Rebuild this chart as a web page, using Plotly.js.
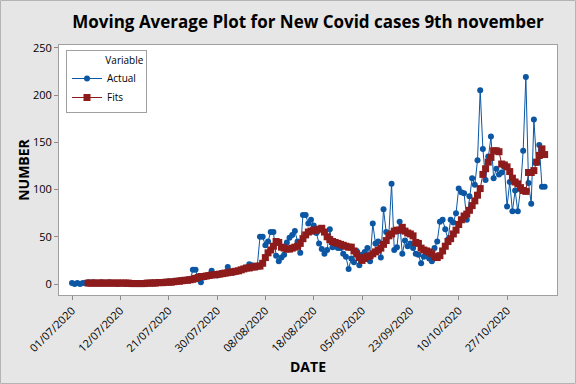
<!DOCTYPE html>
<html>
<head>
<meta charset="utf-8">
<script src="https://cdn.plot.ly/plotly-3.0.1.min.js"></script>
<style>
html,body{margin:0;padding:0;background:#e6e6e6;}
#chart{width:576px;height:384px;}
</style>
</head>
<body>
<div id="chart"></div>
<script>
// ---- data ----
const tickLabels = ["01/07/2020","12/07/2020","21/07/2020","30/07/2020","08/08/2020",
                    "18/08/2020","05/09/2020","23/09/2020","10/10/2020","27/10/2020"];

const actual = [
  1,0,1,0,1,1,2,1,2,1,
  1,2,1,1,2,1,1,0,1,1,
  0,1,0,1,1,1,0,1,1,1,
  2,1,2,1,2,2,3,2,3,3,
  4,3,4,5,4,15,15,5,2,7,
  8,9,14,10,9,11,12,12,18,13,
  12,13,14,15,16,17,21,20,18,19,
  50,50,41,45,55,55,30,24,28,31,
  44,49,52,56,45,33,73,73,64,68,
  62,54,43,37,32,36,58,39,40,38,
  38,32,29,16,27,23,35,20,31,34,
  38,24,64,43,45,28,79,55,53,106,
  36,39,66,32,46,40,43,38,32,31,
  22,29,30,27,24,38,45,66,68,58,
  47,68,65,75,101,97,96,68,93,112,
  105,131,205,143,110,135,156,112,122,116,
  118,124,82,108,77,99,77,100,141,219,
  107,85,174,128,147,103,103
];

const fitsStart = 6;
const fits = [
  1,1,1,1,
  1,1,1,1,1,1,1,1,1,1,
  1,1,0.5,0.5,0.5,0.5,0.5,0.5,1,1,
  1,1,1.5,1.5,1.5,2,2,2,2.5,3,
  3,3.5,4,4,4.5,5,6,7,8,8,
  8.5,9,9.5,10,10,10.5,11,11.5,12,12.5,
  13,13.5,14,15,16,17,17,18,18,19,
  19,22,28,33,36,40,45,44,39,38,
  37,37,38,39,40,43,48,52,55,56,
  57,57,58,59,55,50,47,45,44,43,
  42,41,40,39,39,35,32,28,25,27,
  29,30,32,34,36,38,42,46,51,53,
  56,57,57,60,56,54,53,51,44,43,
  38,36,35,34,32,29,28,30,35,40,
  45,48,53,57,63,68,72,74,78,83,
  88,94,101,116,122,129,134,141,141,140,
  127,126,124,119,112,108,106,102,99,98,
  118,118,120,129,136,143,137
];

// ---- chart ----
const tickStep = 18;
const xActual = actual.map((_, i) => i);
const xFits = fits.map((_, i) => i + fitsStart);
const tickVals = tickLabels.map((_, k) => k * tickStep);

const blue = '#0b57a4';
const red = '#8e1b1b';
const font = 'Open Sans, Noto Sans, Arial, sans-serif';

const traces = [
  {
    x: xActual, y: actual, name: 'Actual', type: 'scatter', mode: 'lines+markers',
    line: {color: blue, width: 1},
    marker: {color: blue, size: 6, symbol: 'circle'}
  },
  {
    x: xFits, y: fits, name: 'Fits', type: 'scatter', mode: 'lines+markers',
    line: {color: red, width: 1},
    marker: {color: red, size: 7, symbol: 'square'}
  }
];

const W = 576, H = 384, L = 59, R = 19, T = 45, B = 89;
const pw = W - L - R, ph = H - T - B;

const layout = {
  width: W, height: H,
  margin: {l: L, r: R, t: T, b: B, pad: 0},
  paper_bgcolor: '#e6e6e6',
  plot_bgcolor: '#ffffff',
  font: {family: font, color: '#000000', size: 11},
  title: {
    text: 'Moving Average Plot for New Covid cases 9th november',
    font: {family: font, size: 17, color: '#000000', weight: 'bold'},
    x: (L + pw / 2) / W, xanchor: 'center',
    y: 1 - 22 / H, yanchor: 'middle'
  },
  xaxis: {
    range: [-4.84, 180.6],
    tickmode: 'array', tickvals: tickVals, ticktext: tickLabels,
    tickangle: -45, ticks: 'outside', ticklen: 4, tickcolor: '#8c8c8c',
    tickfont: {family: font, size: 11, color: '#000000'},
    showgrid: false, zeroline: false,
    showline: true, mirror: true, linecolor: '#a0a0a0', linewidth: 1,
    title: {text: 'DATE', font: {family: font, size: 14, color: '#000000', weight: 'bold'}, standoff: 8}
  },
  yaxis: {
    range: [-11.6, 252.9],
    tickmode: 'array', tickvals: [0, 50, 100, 150, 200, 250],
    ticks: 'outside', ticklen: 4, tickcolor: '#8c8c8c',
    tickfont: {family: font, size: 11, color: '#000000'},
    showgrid: false, zeroline: false,
    showline: true, mirror: true, linecolor: '#a0a0a0', linewidth: 1,
    title: {text: 'NUMBER', font: {family: font, size: 14, color: '#000000', weight: 'bold'}, standoff: 0}
  },
  showlegend: true,
  legend: {
    x: 7 / pw, y: 1 - 5 / ph, xanchor: 'left', yanchor: 'top',
    bgcolor: '#ffffff', bordercolor: '#a0a0a0', borderwidth: 1,
    font: {family: font, size: 10, color: '#000000'},
    title: {text: '\u00a0\u00a0\u00a0\u00a0\u00a0\u00a0\u00a0\u00a0\u00a0\u00a0\u00a0\u00a0\u00a0\u00a0Variable', font: {family: font, size: 10, color: '#000000'}, side: 'top'},
    tracegroupgap: 0, itemwidth: 30
  },
  shapes: [{
    type: 'rect', xref: 'paper', yref: 'paper',
    x0: (0.5 - L) / pw, x1: (W - 0.5 - L) / pw,
    y0: (H - 0.5 - (H - B)) / -ph, y1: 1 + (T - 0.5) / ph,
    line: {color: '#b4b4b4', width: 1}, fillcolor: 'rgba(0,0,0,0)', layer: 'below'
  }]
};

Plotly.newPlot('chart', traces, layout, {displayModeBar: false, staticPlot: true});
</script>
</body>
</html>
